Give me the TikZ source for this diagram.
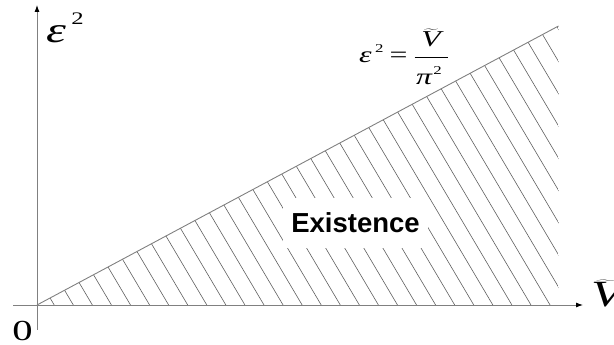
\documentclass[tikz,border=0pt]{standalone}
\usepackage{fontspec}
\setmainfont{Liberation Serif}
\newfontfamily\sansfam{Liberation Sans}
\usepackage{graphicx}
\usetikzlibrary{arrows.meta}
\definecolor{axisgray}{RGB}{128,128,128}
\definecolor{hatchgray}{RGB}{95,95,95}
\newcommand{\fsz}[1]{\fontsize{#1}{#1}\selectfont}
\newcommand{\hstr}[1]{\scalebox{1.4}[1]{#1}}
\begin{document}
\begin{tikzpicture}[x=1pt,y=1pt,
  axisline/.style={draw=axisgray, line width=0.9pt, -{Latex[length=7pt,width=5pt,color=black]}},
  boundline/.style={draw=axisgray, line width=0.9pt},
  hatchline/.style={draw=hatchgray, line width=0.6pt},
  fracbar/.style={draw=black, line width=0.8pt},
  lbl/.style={inner sep=0pt, outer sep=0pt},
  exbox/.style={fill=white, inner sep=0pt, minimum width=145pt, minimum height=50pt,
    text height=20pt, text depth=0pt, font={\sansfam\bfseries\fsz{27.5}}}]
\useasboundingbox (0,0) rectangle (614,345);
% key points
\coordinate (O) at (37,40);
\coordinate (P) at (558.5,319);
\coordinate (Q) at (558.5,40);
\coordinate (ytop) at (37,340);
\coordinate (ybot) at (37,15);
\coordinate (xleft) at (13,40);
\coordinate (xright) at (583,40);
\coordinate (fbA) at (414.7,288);
\coordinate (fbB) at (448,288);
% hatching
\begin{scope}
  \clip (O) -- (P) -- (Q) -- cycle;
  \foreach \k in {-2,...,34} {
    \draw[hatchline] ({73.3+19.07*\k},40) -- ++(-175,295.75);
  }
\end{scope}
% boundary line
\draw[boundline] (O) -- (P);
% axes
\draw[axisline] (ybot) -- (ytop);
\draw[axisline] (xleft) -- (xright);
% labels
\node[lbl, anchor=base west] (ylab) at (46,302)
  {\hstr{\fsz{36}\itshape ε\hspace{4pt}\raisebox{18pt}{\upshape\fsz{17.6}2}}};
\node[lbl, anchor=base] (zero) at (22.5,4.5) {\hstr{\fsz{29}0}};
\node[lbl, anchor=base west] (xlab) at (591,38)
  {\hstr{\fsz{37}$\widetilde{\mbox{\itshape V}}$}};
% equation
\node[lbl, anchor=base west] (eqL) at (359,282)
  {\hstr{\fsz{22.7}\itshape ε\hspace{2.5pt}\raisebox{10pt}{\upshape\fsz{12}2}\hspace{4.5pt}\upshape =}};
\node[lbl, anchor=base] (num) at (431,298)
  {\hstr{\fsz{22.7}$\widetilde{\mbox{\itshape V}}$}};
\draw[fracbar] (fbA) -- (fbB);
\node[lbl, anchor=base west] (den) at (416,260)
  {\hstr{\fsz{22.7}\itshape π\hspace{1pt}\raisebox{10pt}{\upshape\fsz{12}2}}};
% region label
\node[exbox] (ex) at (355.5,122) {Existence};
\end{tikzpicture}
\end{document}
